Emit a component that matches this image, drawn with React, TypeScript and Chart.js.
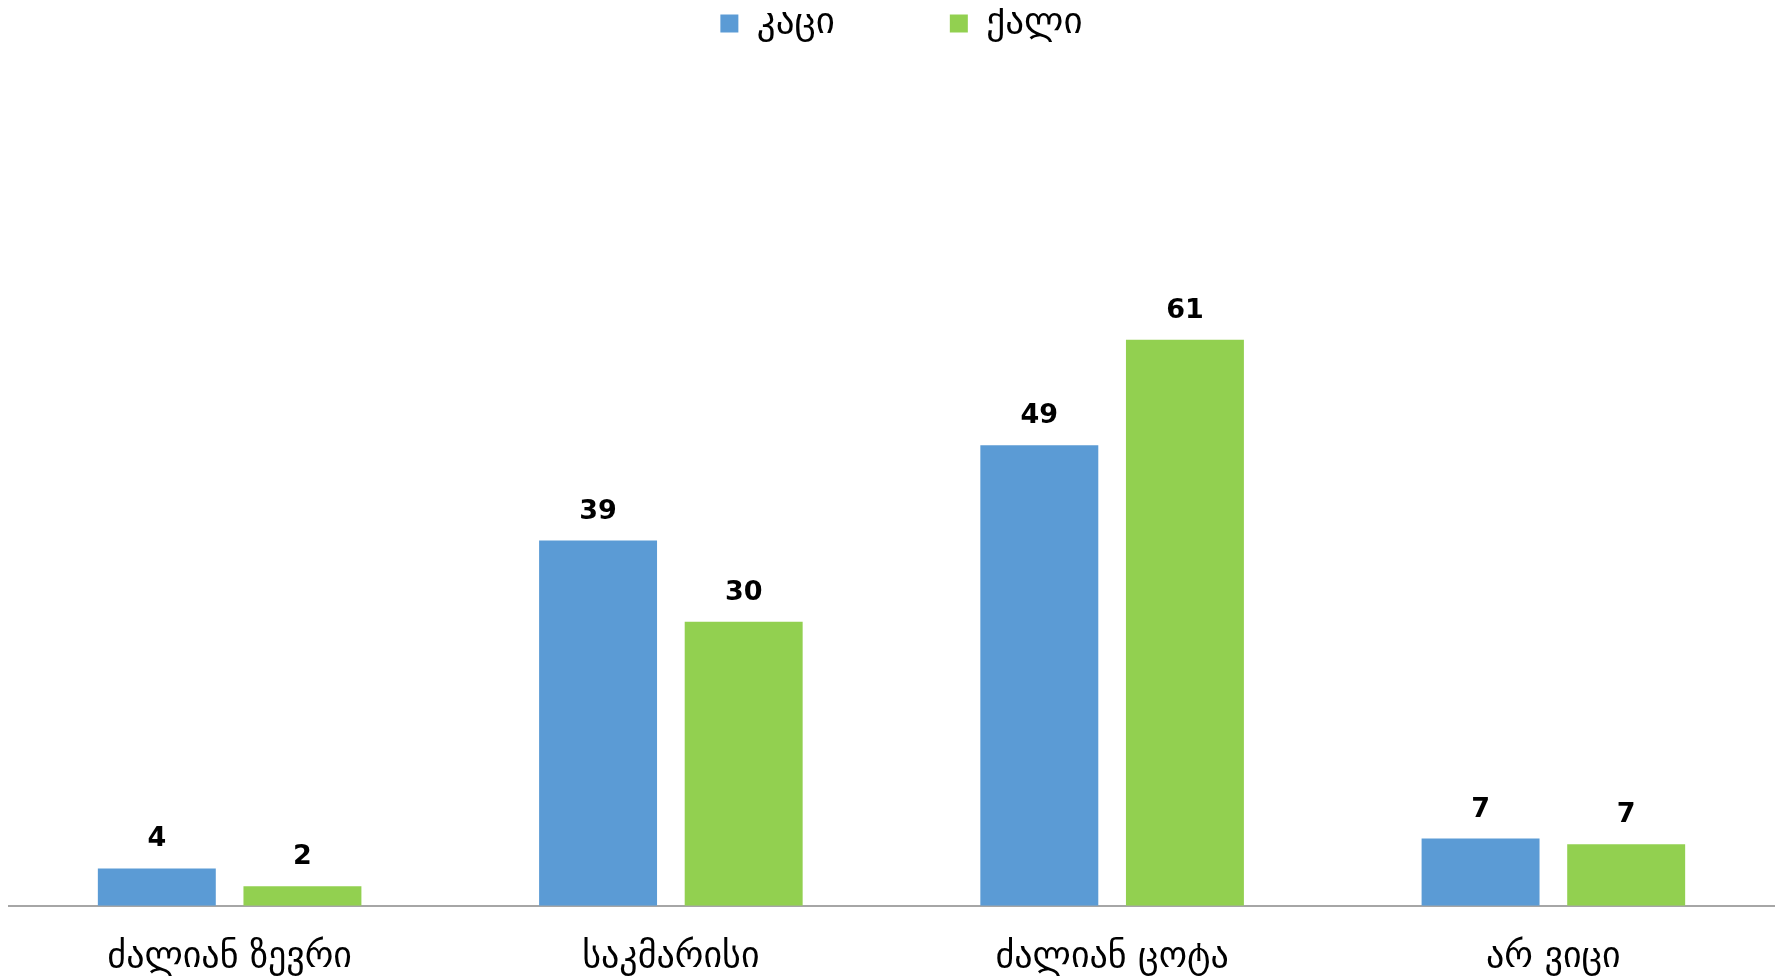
import React, { useEffect, useRef } from "react";
import { Chart, registerables } from "chart.js";

Chart.register(...registerables);

const categories = ["ძალიან ზევრი", "საკმარისი", "ძალიან ცოტა", "არ ვიცი"];
const seriesNames = ["კაცი", "ქალი"];
const maleValues = [4.0, 39.1, 49.3, 7.2];
const femaleValues = [2.1, 30.4, 60.6, 6.6];
const seriesColors = ["#5B9BD5", "#92D050"];

const valueLabels = {
  id: "valueLabels",
  afterDatasetsDraw(chart: any) {
    const ctx = chart.ctx;
    ctx.save();
    ctx.font = "bold 27px 'DejaVu Sans'";
    ctx.fillStyle = "#000000";
    ctx.textAlign = "center";
    ctx.textBaseline = "middle";
    chart.data.datasets.forEach((ds: any, di: number) => {
      const meta = chart.getDatasetMeta(di);
      meta.data.forEach((bar: any, i: number) => {
        ctx.fillText(String(Math.round(ds.data[i])), bar.x, bar.y - 29);
      });
    });
    ctx.restore();
  },
};

const legendShift = {
  id: "legendShift",
  beforeDraw(chart: any) {
    if (chart.legend) {
      chart.legend.left = 10;
      chart.legend.right = chart.width + 10;
    }
  },
};

export default function App() {
  const ref = useRef<HTMLCanvasElement | null>(null);
  useEffect(() => {
    document.body.style.overflow = "hidden";
    if (!ref.current) return;
    const chart = new Chart(ref.current, {
      type: "bar",
      data: {
        labels: categories,
        datasets: [
          { label: seriesNames[0], data: maleValues, backgroundColor: seriesColors[0] },
          { label: seriesNames[1], data: femaleValues, backgroundColor: seriesColors[1] },
        ],
      },
      options: {
        animation: false,
        responsive: true,
        maintainAspectRatio: false,
        layout: { padding: { top: -118, left: 1, right: 1, bottom: -32 } },
        datasets: { bar: { categoryPercentage: 0.66, barPercentage: 0.81 } },
        plugins: {
          legend: {
            position: "top",
            labels: {
              padding: 115,
              boxWidth: 18,
              boxHeight: 18,
              color: "#000000",
              font: { family: "'DejaVu Sans'", size: 37 },
            },
          },
          tooltip: { enabled: false },
        },
        scales: {
          x: {
            grid: { display: false, drawTicks: false },
            border: { display: true, color: "#a6a6a6", width: 2 },
            ticks: {
              padding: 30,
              color: "#000000",
              font: { family: "'DejaVu Sans'", size: 36 },
            },
          },
          y: {
            display: false,
            min: 0,
            max: 91.4,
          },
        },
      },
      plugins: [valueLabels, legendShift],
    });
    return () => chart.destroy();
  }, []);
  return (
    <div style={{ width: "100%", height: "969px", position: "relative" }}>
      <canvas ref={ref} />
    </div>
  );
}
